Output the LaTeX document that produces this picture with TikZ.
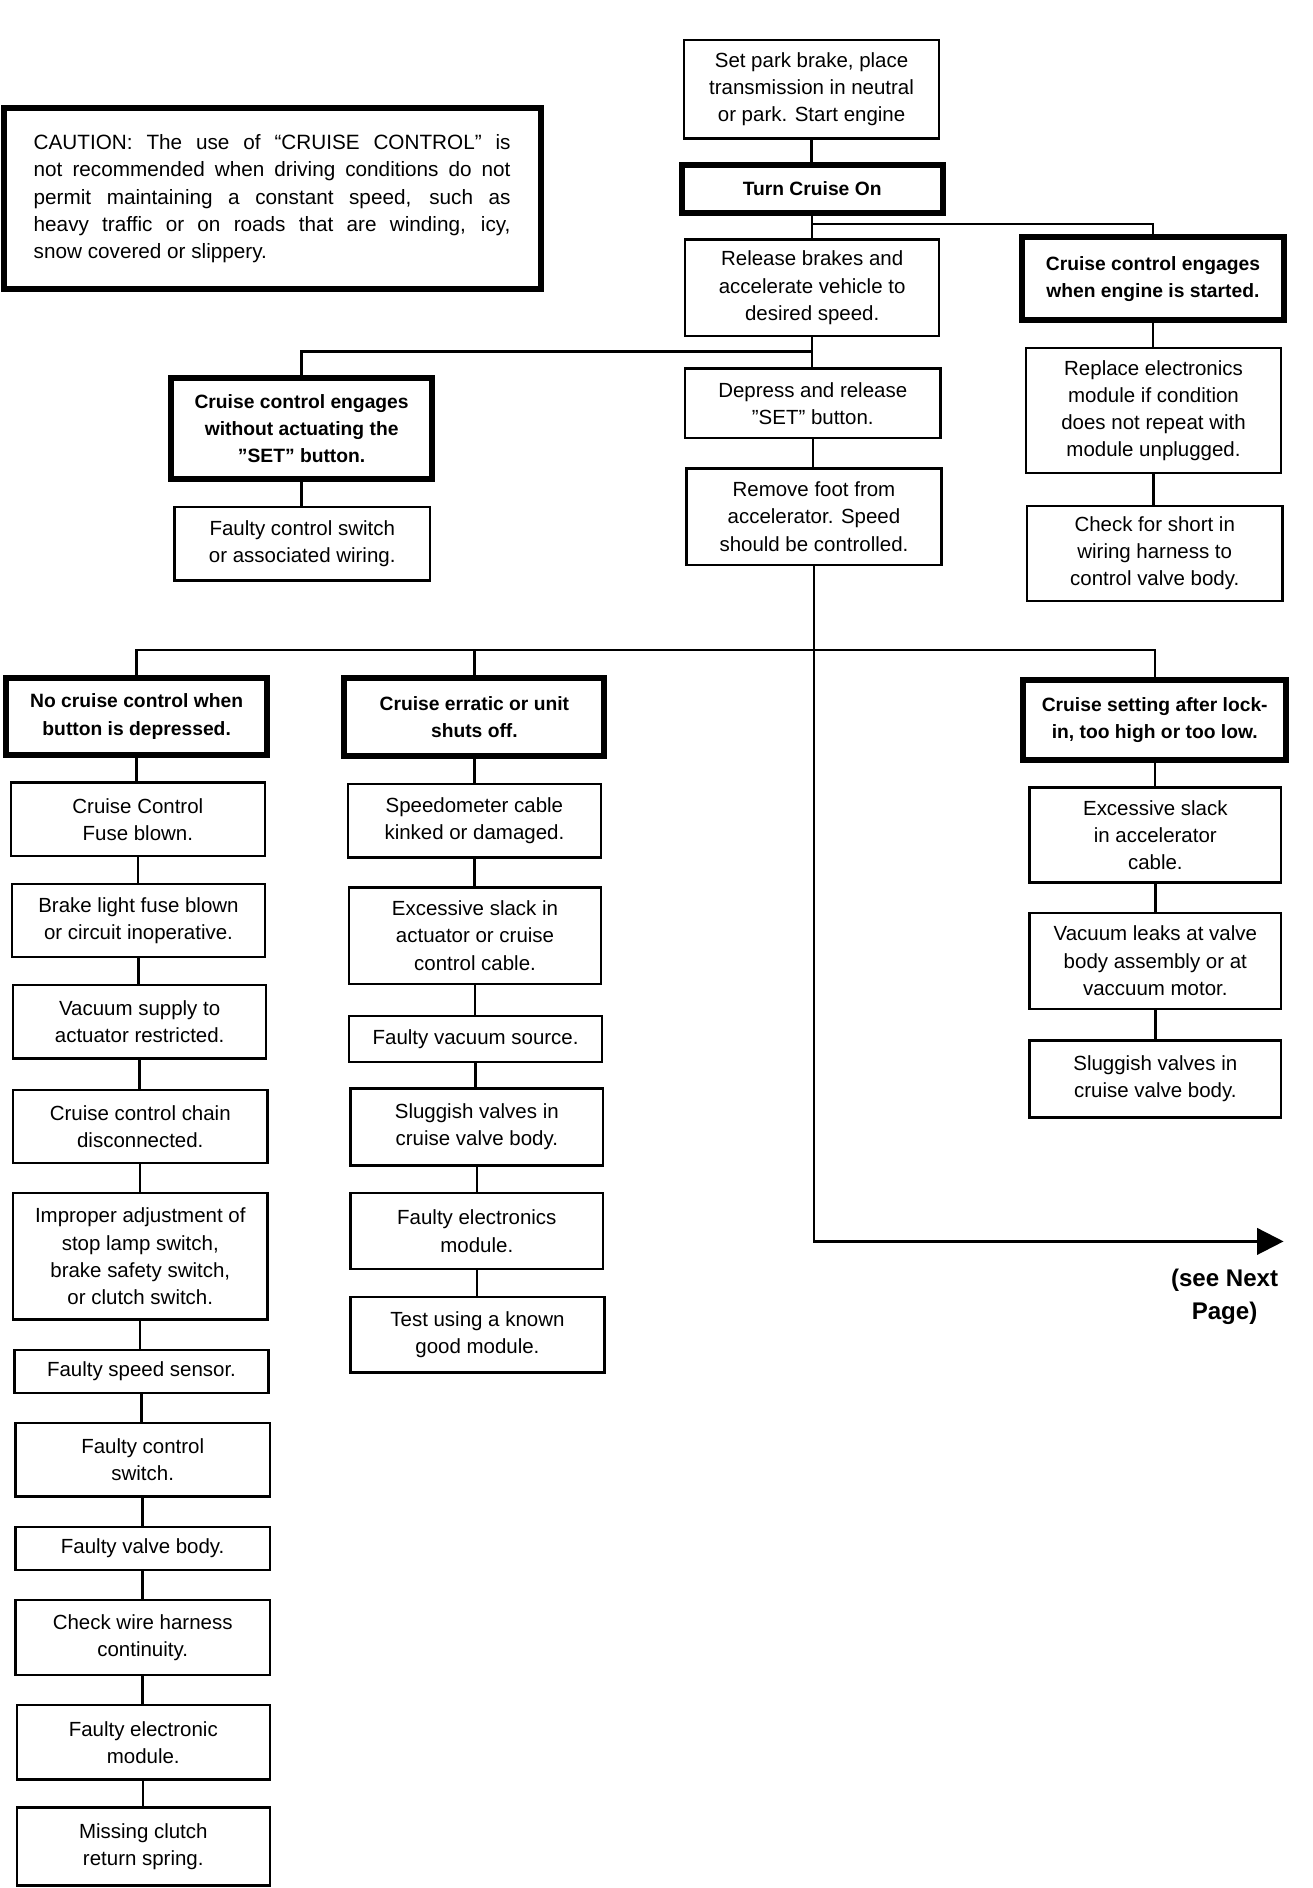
\documentclass[tikz,border=0pt]{standalone}
\usepackage{fontspec}
\setmainfont{Liberation Sans}
\usetikzlibrary{arrows.meta}
\tikzset{
  base/.style={draw, line width=1pt, inner sep=0pt, align=center, font=\fontsize{8.5}{11.3}\selectfont},
  plainbox/.style={base},
  heavybox/.style={base, line width=2.5pt, font=\fontsize{8}{11.3}\selectfont\bfseries},
  wire/.style={line width=1pt},
}
\newcommand\mybox[7]{\node[#1, minimum width={(#5-#3)*0.5pt}, minimum height={(#6-#4)*0.5pt}] (#2) at ({(#3+#5)/2},{(#4+#6)/2}) {#7};}
\begin{document}
\begin{tikzpicture}[x=0.5pt,y=-0.5pt]
\useasboundingbox (0,0) rectangle (1090,1568);

% caution
\node[draw, line width=2.5pt, inner sep=0pt, text width=198pt, align=justify,
      minimum width=223pt, minimum height=75pt, font=\fontsize{8.6}{11.35}\selectfont]
  (caution) at (226,165) {CAUTION: The use of “CRUISE CONTROL” is\linebreak
  not recommended when driving conditions do not\linebreak
  permit maintaining a constant speed, such as\linebreak
  heavy traffic or on roads that are winding, icy,\linebreak
  snow covered or slippery.};

% main column
\mybox{plainbox}{park}{568}{33}{780}{115}{Set park brake, place\\transmission in neutral\\or park. Start engine}
\mybox{heavybox}{turn}{566}{137}{783}{177}{Turn Cruise On}
\mybox{plainbox}{release}{569}{199}{780}{279}{Release brakes and\\accelerate vehicle to\\desired speed.}
\mybox{heavybox}{engstart}{849}{197}{1066}{266}{Cruise control engages\\when engine is started.}
\mybox{plainbox}{replace}{852}{289}{1064}{393}{Replace electronics\\module if condition\\does not repeat with\\module unplugged.}
\mybox{plainbox}{short}{853}{420}{1065}{499}{Check for short in\\wiring harness to\\control valve body.}
\mybox{heavybox}{without}{142}{314}{359}{398}{Cruise control engages\\without actuating the\\"SET" button.}
\mybox{plainbox}{faultysw}{145}{421}{357}{482}{Faulty control switch\\or associated wiring.}
\mybox{plainbox}{depress}{569}{306}{781}{364}{Depress and release\\"SET" button.}
\mybox{plainbox}{remove}{570}{389}{782}{469}{Remove foot from\\accelerator. Speed\\should be controlled.}

% column 1
\mybox{heavybox}{nocruise}{5}{563}{222}{627}{No cruise control when\\button is depressed.}
\mybox{plainbox}{a1}{9}{650}{220}{711}{Cruise Control\\Fuse blown.}
\mybox{plainbox}{a2}{10}{734}{220}{795}{Brake light fuse blown\\or circuit inoperative.}
\mybox{plainbox}{a3}{11}{818}{221}{879}{Vacuum supply to\\actuator restricted.}
\mybox{plainbox}{a4}{11}{905}{222}{966}{Cruise control chain\\disconnected.}
\mybox{plainbox}{a5}{11}{991}{222}{1096}{Improper adjustment of\\stop lamp switch,\\brake safety switch,\\or clutch switch.}
\mybox{plainbox}{a6}{12}{1121}{223}{1157}{Faulty speed sensor.}
\mybox{plainbox}{a7}{13}{1182}{224}{1243}{Faulty control\\switch.}
\mybox{plainbox}{a8}{13}{1268}{224}{1304}{Faulty valve body.}
\mybox{plainbox}{a9}{13}{1329}{224}{1391}{Check wire harness\\continuity.}
\mybox{plainbox}{a10}{14}{1416}{224}{1478}{Faulty electronic\\module.}
\mybox{plainbox}{a11}{14}{1501}{224}{1566}{Missing clutch\\return spring.}

% column 2
\mybox{heavybox}{erratic}{286}{563}{502}{628}{Cruise erratic or unit\\shuts off.}
\mybox{plainbox}{b1}{289}{651}{499}{712}{Speedometer cable\\kinked or damaged.}
\mybox{plainbox}{b2}{290}{737}{499}{817}{Excessive slack in\\actuator or cruise\\control cable.}
\mybox{plainbox}{b3}{290}{844}{500}{882}{Faulty vacuum source.}
\mybox{plainbox}{b4}{291}{904}{501}{968}{Sluggish valves in\\cruise valve body.}
\mybox{plainbox}{b5}{291}{991}{501}{1054}{Faulty electronics\\module.}
\mybox{plainbox}{b6}{291}{1077}{502}{1140}{Test using a known\\good module.}

% column 3
\mybox{heavybox}{setting}{850}{565}{1068}{631}{Cruise setting after lock-\\in, too high or too low.}
\mybox{plainbox}{d1}{855}{654}{1064}{733}{Excessive slack\\in accelerator\\cable.}
\mybox{plainbox}{d2}{855}{758}{1064}{838}{Vacuum leaks at valve\\body assembly or at\\vaccuum motor.}
\mybox{plainbox}{d3}{855}{864}{1064}{928}{Sluggish valves in\\cruise valve body.}

% see next page
\node[font=\fontsize{10}{13.5}\selectfont\bfseries, align=center, inner sep=0pt] (seenext) at (1017,1077) {(see Next\\Page)};

% junction coordinates
\coordinate (j1) at (674,186);
\coordinate (j2) at (674,292);
\coordinate (h2) at (678,540);
\coordinate (arrowend) at (1066,1031);

% connectors
\draw[wire] (park.south) -- (park.south |- turn.north);
\draw[wire] (turn.south) -- (turn.south |- release.north);
\draw[wire] (j1) -| (engstart.north);
\draw[wire] (engstart.south) -- (engstart.south |- replace.north);
\draw[wire] (replace.south) -- (replace.south |- short.north);
\draw[wire] (release.south) -- (release.south |- depress.north);
\draw[wire] (j2) -| (without.north);
\draw[wire] (without.south) -- (without.south |- faultysw.north);
\draw[wire] (depress.south) -- (depress.south |- remove.north);
\draw[wire, -{Triangle[length=11pt,width=11pt]}] (remove.south) |- (arrowend);
\draw[wire] (nocruise.north) |- (h2) -| (setting.north);
\draw[wire] (erratic.north) -- (erratic.north |- h2);

\draw[wire] (nocruise.south) -- (nocruise.south |- a1.north);
\draw[wire] (a1.south) -- (a1.south |- a2.north);
\draw[wire] (a2.south) -- (a2.south |- a3.north);
\draw[wire] (a3.south) -- (a3.south |- a4.north);
\draw[wire] (a4.south) -- (a4.south |- a5.north);
\draw[wire] (a5.south) -- (a5.south |- a6.north);
\draw[wire] (a6.south) -- (a6.south |- a7.north);
\draw[wire] (a7.south) -- (a7.south |- a8.north);
\draw[wire] (a8.south) -- (a8.south |- a9.north);
\draw[wire] (a9.south) -- (a9.south |- a10.north);
\draw[wire] (a10.south) -- (a10.south |- a11.north);

\draw[wire] (erratic.south) -- (erratic.south |- b1.north);
\draw[wire] (b1.south) -- (b1.south |- b2.north);
\draw[wire] (b2.south) -- (b2.south |- b3.north);
\draw[wire] (b3.south) -- (b3.south |- b4.north);
\draw[wire] (b4.south) -- (b4.south |- b5.north);
\draw[wire] (b5.south) -- (b5.south |- b6.north);

\draw[wire] (setting.south) -- (setting.south |- d1.north);
\draw[wire] (d1.south) -- (d1.south |- d2.north);
\draw[wire] (d2.south) -- (d2.south |- d3.north);
\end{tikzpicture}
\end{document}
